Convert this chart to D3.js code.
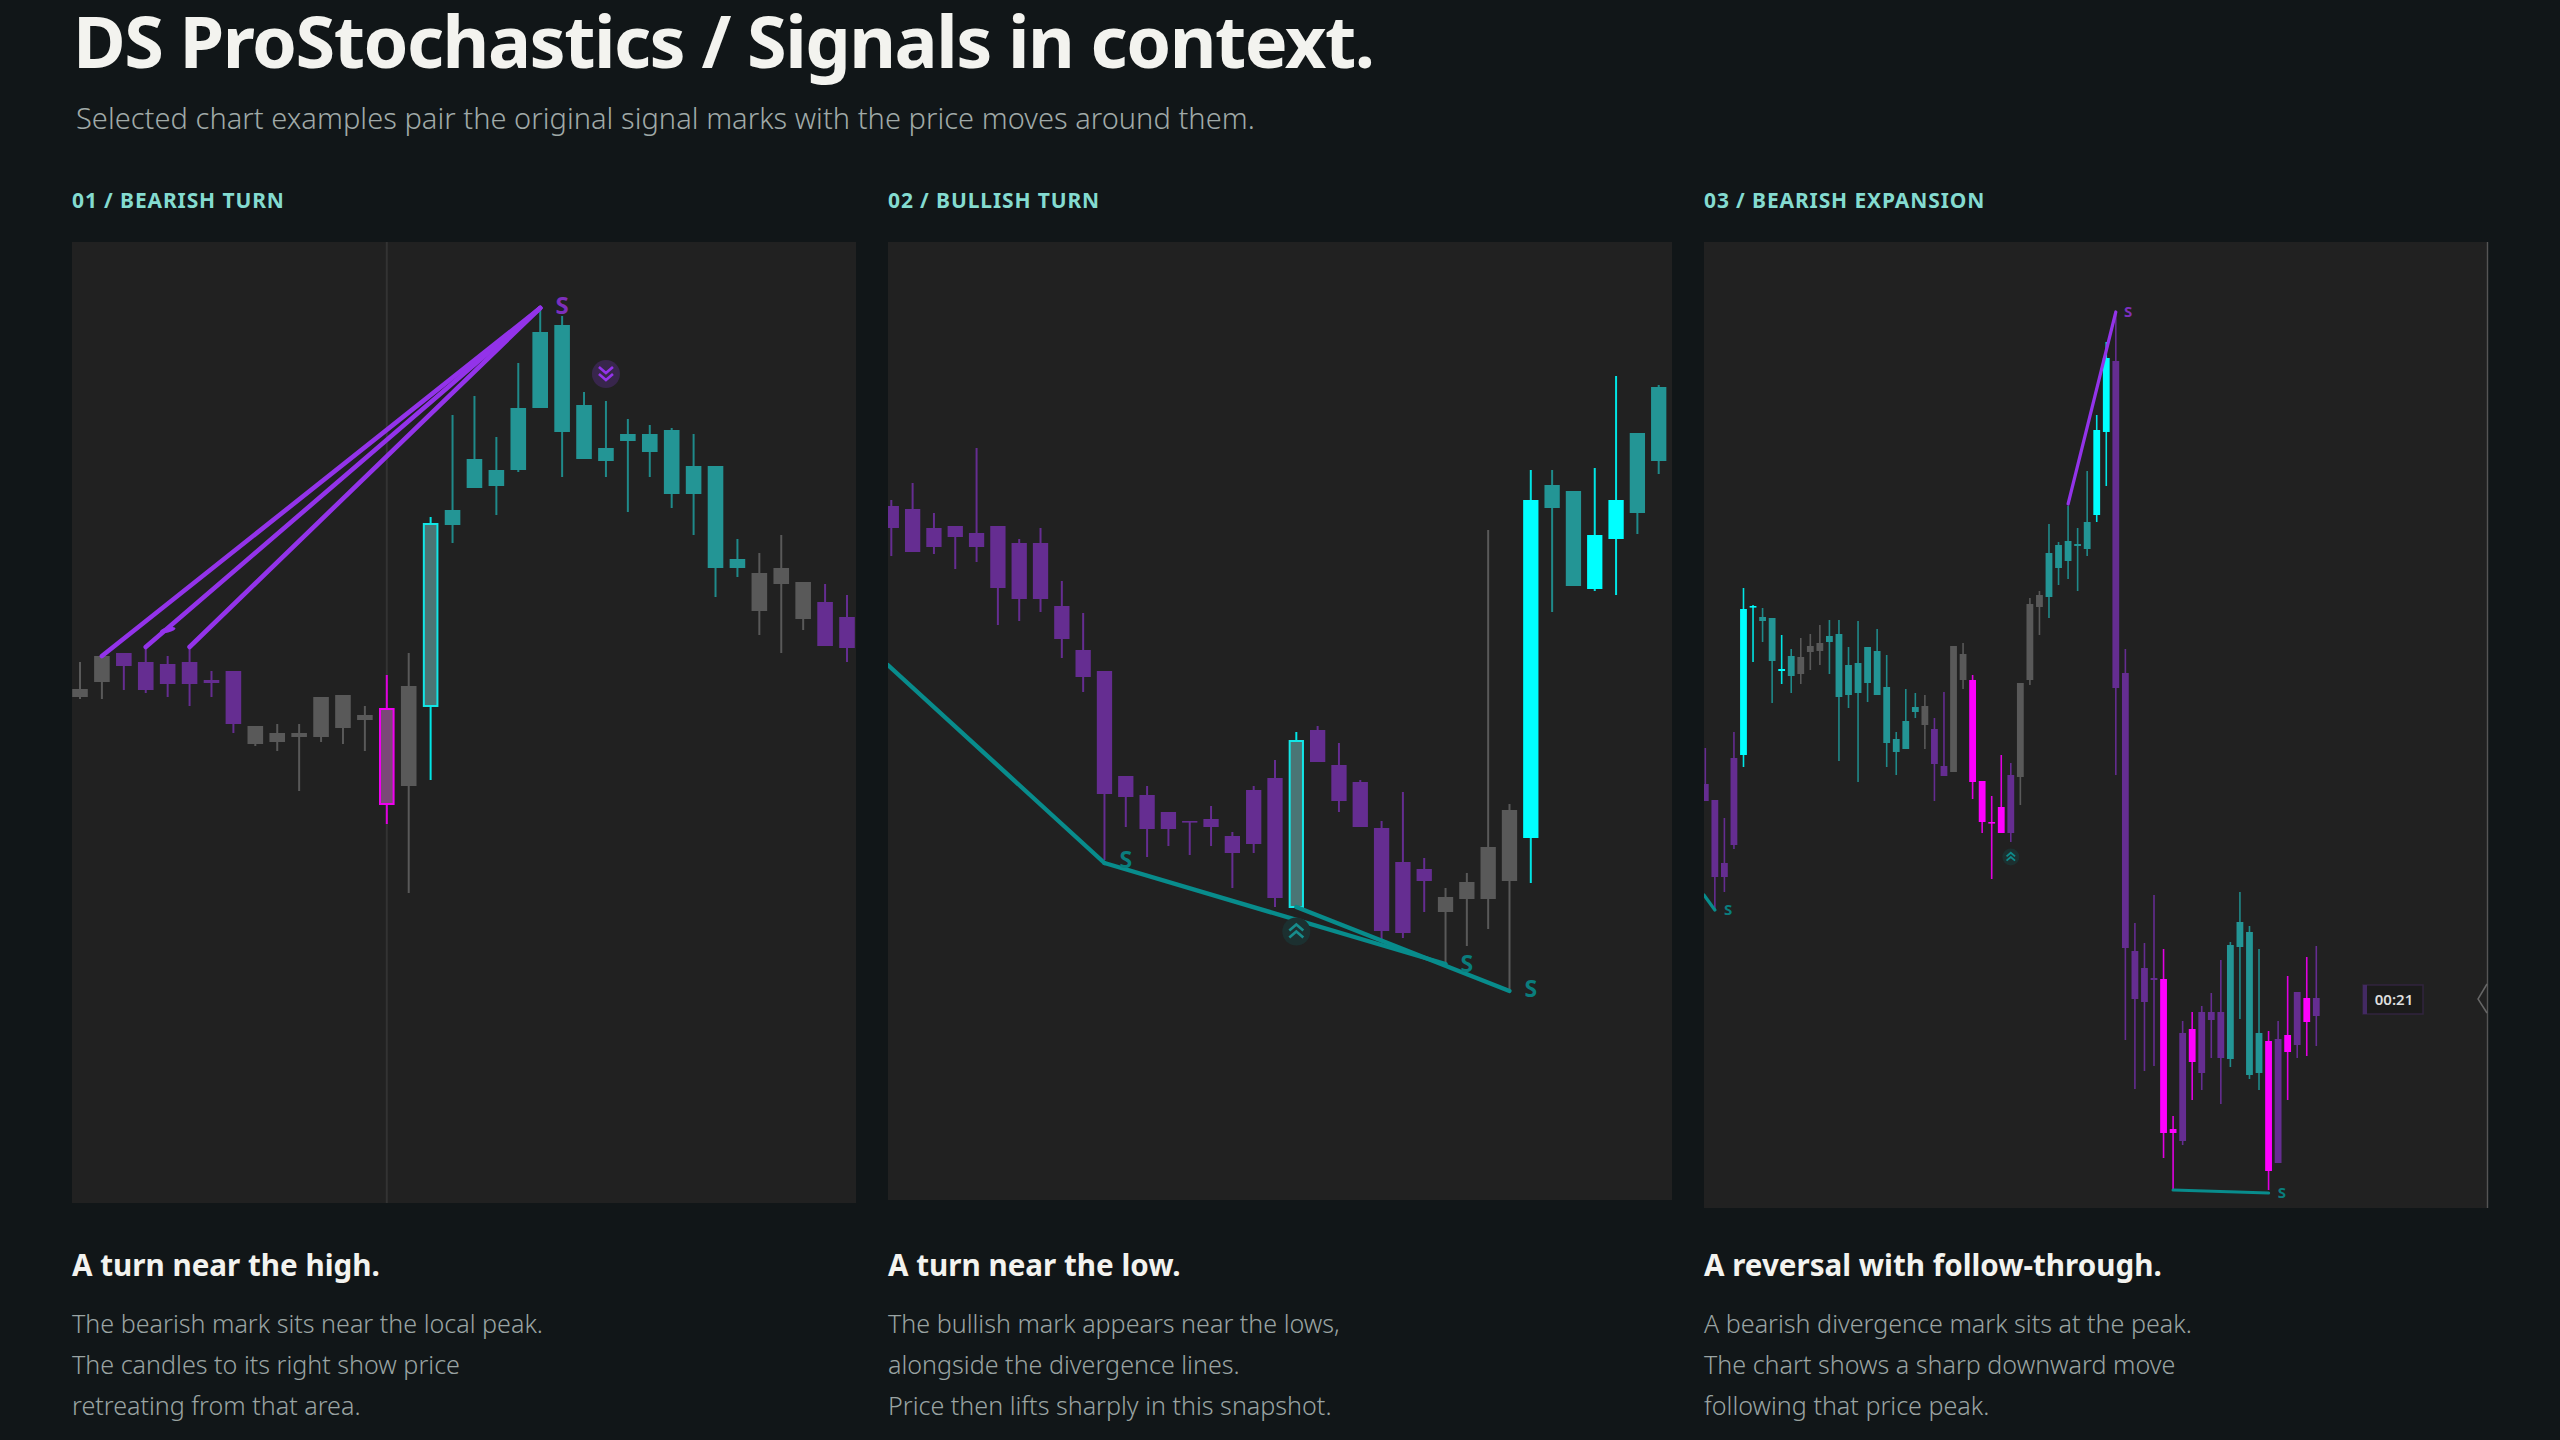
<!DOCTYPE html>
<html><head><meta charset="utf-8">
<script src="https://cdn.jsdelivr.net/npm/d3@7/dist/d3.min.js"></script>
<style>html,body{margin:0;padding:0;background:#111618}svg{display:block}text{font-family:"Noto Sans",sans-serif}</style>
</head><body><div id="chart"></div>
<script>
// ---------- text ----------
const pageTitle = "DS ProStochastics / Signals in context.";
const pageSubtitle = "Selected chart examples pair the original signal marks with the price moves around them.";
const panelLabels = ["01 / BEARISH TURN", "02 / BULLISH TURN", "03 / BEARISH EXPANSION"];
const panelHeadings = ["A turn near the high.", "A turn near the low.", "A reversal with follow-through."];
const panelNotes = [
  ["The bearish mark sits near the local peak.", "The candles to its right show price", "retreating from that area."],
  ["The bullish mark appears near the lows,", "alongside the divergence lines.", "Price then lifts sharply in this snapshot."],
  ["A bearish divergence mark sits at the peak.", "The chart shows a sharp downward move", "following that price peak."]
];
// ---------- panel 1 candles (index = position in list) ----------
const p1High = [542,548,551,557,548,557,533,533,478,480,480,507,509,498,529,551,687,789,808,767,841,894,888,812,803,785,779,776,770,738,665,651,669,622,620,609];
const p1Top  = [515,548,551,542,540,542,524,533,478,471,471,507,509,489,495,518,680,694,745,734,796,872,879,799,756,770,770,774,738,738,645,631,636,622,602,587];
const p1Bot  = [507,522,538,514,520,520,521,480,460,462,467,467,476,484,400,418,498,679,716,718,734,796,772,745,743,763,752,710,710,636,636,593,620,585,558,556];
const p1Low  = [505,505,514,511,507,498,507,471,458,453,413,462,460,453,380,311,424,661,716,689,732,796,727,745,727,692,727,696,669,607,627,569,551,574,558,542];
const p1Kind = ("gg"+"pppppp"+"gggggg"+"x"+"g"+"o"+"tttttttttttttt"+"ggg"+"pp").split("");
// ---------- panel 2 candles ----------
const p2High = [704,721,691,678,756,678,665,676,623,591,533,428,418,392,383,398,372,418,444,472,478,461,424,383,412,346,316,331,674,400,734,734,713,736,828,771,819];
const p2Top  = [698,695,676,678,671,678,661,661,598,554,533,428,409,392,383,385,368,414,426,463,474,439,422,376,342,335,307,322,357,394,704,719,713,669,704,771,817];
const p2Bot  = [676,652,657,667,657,616,605,605,565,527,410,407,375,375,382,377,351,360,306,297,442,403,377,273,271,323,292,305,305,323,366,696,618,615,665,691,743];
const p2Low  = [648,652,650,635,642,579,583,592,546,512,344,377,347,358,349,358,316,351,297,297,442,392,377,265,266,292,241,258,275,214,321,592,618,613,609,670,730];
const p2Kind = ("ppppppppppppppppppp"+"o"+"pppppp"+"gggg"+"c"+"tt"+"cc"+"tt").split("");
// ---------- panel 3 candles ----------
const p3High = [462,410,392,478,622,605,602,592,575,561,572,576,585,590,590,563,589,563,581,555,478,521,517,515,492,518,564,567,535,429,414,455,447,527,612,619,686,668,704,682,739,795,868,898,561,287,267,315,261,94,189,198,204,217,250,268,318,284,261,179,189,234,218,253,264];
const p3Top  = [426,410,347,452,601,604,593,592,541,554,553,564,567,574,576,545,547,563,559,523,471,489,503,504,481,444,564,556,530,429,388,403,435,527,606,615,657,665,669,666,688,780,852,849,537,259,242,232,231,81,177,181,198,198,198,265,288,278,177,169,171,175,218,212,212];
const p3Bot  = [409,333,333,365,455,603,589,549,539,534,536,558,559,568,513,515,517,527,515,467,458,461,498,485,446,434,438,530,428,388,387,377,377,433,530,603,613,642,649,664,661,695,778,522,262,211,208,230,77,77,69,148,137,190,152,151,263,135,137,39,47,158,165,188,194];
const p3Low  = [409,300,318,361,443,548,568,507,526,517,526,540,545,536,449,502,428,508,515,443,435,461,492,461,409,434,438,521,411,377,331,377,368,405,525,575,592,625,631,619,654,688,724,435,170,121,139,144,52,20,65,110,120,152,106,143,191,131,120,20,47,110,152,154,164];
const p3Kind = ("pppp"+"cc"+"tt"+"c"+"t"+"ggg"+"tttttttttt"+"g"+"pp"+"gg"+"mmmm"+"p"+"ggg"+"ttttt"+"cc"+"ppppp"+"mm"+"p"+"m"+"ppp"+"tttt"+"m"+"p"+"m"+"p"+"m"+"p").split("");
// ---------- signal lines: [index, price, index, price, direction] ----------
const p1Lines = [[1,548,21,896,"bear"],[3,557,21,896,"bear"],[5,557,21,896,"bear"]];
const p2Lines = [[-0.16,539,10,341,"bull"],[10,341,26,240,"bull"],[19,297,29,213,"bull"]];
const p3Lines = [[-0.14,315,1,300,"bull"],[38,706,43,898,"bear"],[49,20,59,17,"bull"]];
// ---------- signal marks: [index, price, direction] ----------
const p1Letters = [[22,900,"bear"]];
const p2Letters = [[11,345,"bull"],[27,241,"bull"],[30,216,"bull"]];
const p3Letters = [[2.4,301,"bull"],[44.3,899,"bear"],[60.4,18,"bull"]];
const p1Badge = [24,830], p2Badge = [19,272.5], p3Badge = [32,353];
const timerText = "00:21";

// ---------- styles ----------
const kindFill = d3.scaleOrdinal(["g","p","t","c","m","o","x"],["#595959","#652d91","#239595","#00ffff","#ff00ff","#4a7575","#7b4878"]);
const kindEdge = d3.scaleOrdinal(["o","x"],["#12e6e6","#f000f0"]).unknown(null);
const kindWick = d3.scaleOrdinal(["g","p","t","c","m","o","x"],["#595959","#652d91","#1f8a8a","#00e5e5","#e000e0","#00e5e5","#e000e0"]);
const lineCol = d3.scaleOrdinal(["bear","bull"],["#9333ea","#088c8c"]);
const letterCol = d3.scaleOrdinal(["bear","bull"],["#7d2fbd","#0a7d7d"]);

const panels = [
 {high:p1High,top:p1Top,bot:p1Bot,low:p1Low,kind:p1Kind,lines:p1Lines,letters:p1Letters,badge:p1Badge,left:72,right:856,top_:242,bottom:1203,xd:[0,35],xr:[80,847],yd:[1,962],bw:15.6,wick:2,lw:4.6,letterSize:24,badgeR:14,up:false,badgeFill:"#38264c",chev:"#9333ea"},
 {high:p2High,top:p2Top,bot:p2Bot,low:p2Low,kind:p2Kind,lines:p2Lines,letters:p2Letters,badge:p2Badge,left:888,right:1672,top_:242,bottom:1200,xd:[0,36],xr:[891.3,1658.7],yd:[4,962],bw:15.3,wick:2,lw:4.4,letterSize:23,badgeR:14,up:true,badgeFill:"#1c3030",chev:"#178c8c"},
 {high:p3High,top:p3Top,bot:p3Bot,low:p3Low,kind:p3Kind,lines:p3Lines,letters:p3Letters,badge:p3Badge,left:1704,right:2488,top_:242,bottom:1208,xd:[0,64],xr:[1705.3,2316.3],yd:[2,968],bw:6.8,wick:1.6,lw:3.2,letterSize:15,badgeR:8.5,up:true,badgeFill:"#1c3030",chev:"#0f8a8a"}
];

const svg = d3.select("#chart").append("svg").attr("width",2560).attr("height",1440).attr("viewBox","0 0 2560 1440");
svg.append("rect").attr("width",2560).attr("height",1440).attr("fill","#111618");
svg.append("text").attr("x",73).attr("y",68).attr("fill","#f3f3ef").attr("font-size",72).attr("font-weight",700).attr("letter-spacing",-1.5).text(pageTitle);
svg.append("text").attr("x",76).attr("y",129).attr("fill","#a0aaa8").attr("font-size",29).attr("font-weight",300).attr("letter-spacing",0.04).text(pageSubtitle);

panels.forEach((P,pi)=>{
  const g = svg.append("g");
  const x = d3.scaleLinear().domain(P.xd).range(P.xr);
  const y = d3.scaleLinear().domain(P.yd).range([P.bottom,P.top_]);
  const w = P.right-P.left;
  g.append("text").attr("x",P.left).attr("y",208).attr("fill","#84dbd0").attr("font-size",21).attr("font-weight",700).attr("letter-spacing",0.88).text(panelLabels[pi]);
  g.append("rect").attr("x",P.left).attr("y",P.top_).attr("width",w).attr("height",P.bottom-P.top_).attr("fill","#212121");
  const clip = "clip"+pi;
  svg.append("clipPath").attr("id",clip).append("rect").attr("x",P.left).attr("y",P.top_).attr("width",w).attr("height",P.bottom-P.top_);
  const c = g.append("g").attr("clip-path",`url(#${clip})`);
  if(pi===0) c.append("line").attr("x1",x(14)).attr("x2",x(14)).attr("y1",P.top_).attr("y2",P.bottom).attr("stroke","#333333").attr("stroke-width",2);
  const idx = d3.range(P.high.length);
  c.selectAll(".wick").data(idx).join("line").attr("class","wick")
    .attr("x1",i=>x(i)).attr("x2",i=>x(i)).attr("y1",i=>y(P.high[i])).attr("y2",i=>y(P.low[i]))
    .attr("stroke",i=>kindWick(P.kind[i])).attr("stroke-width",P.wick);
  c.selectAll(".body").data(idx).join("rect").attr("class","body")
    .attr("x",i=>x(i)-P.bw/2 + (kindEdge(P.kind[i])?1:0))
    .attr("width",i=>P.bw - (kindEdge(P.kind[i])?2:0))
    .attr("y",i=>y(P.top[i]))
    .attr("height",i=>Math.max(1.6,y(P.bot[i])-y(P.top[i])))
    .attr("fill",i=>kindFill(P.kind[i]))
    .attr("stroke",i=>kindEdge(P.kind[i])).attr("stroke-width",2);
  c.selectAll(".sig").data(P.lines).join("line").attr("class","sig")
    .attr("x1",d=>x(d[0])).attr("y1",d=>y(d[1])).attr("x2",d=>x(d[2])).attr("y2",d=>y(d[3]))
    .attr("stroke",d=>lineCol(d[4])).attr("stroke-width",P.lw).attr("stroke-linecap","round");
  c.selectAll(".letter").data(P.letters).join("text").attr("class","letter")
    .attr("x",d=>x(d[0])).attr("y",d=>y(d[1])).attr("text-anchor","middle").attr("dominant-baseline","central")
    .attr("font-family","Roboto, sans-serif").attr("font-weight",700).attr("font-size",P.letterSize).attr("fill",d=>letterCol(d[2])).text("S");
  // round badge with double chevron
  const b = c.append("g").attr("transform",`translate(${x(P.badge[0])},${y(P.badge[1])})`);
  b.append("circle").attr("r",P.badgeR).attr("fill",P.badgeFill);
  const s = P.badgeR/14, dir = P.up?-1:1;
  [-4,3].forEach(o=>{
    const oo = o*s;
    b.append("path").attr("d",d3.line()([[-7*s,(oo-3*s*dir)],[0,(oo+3*s*dir)],[7*s,(oo-3*s*dir)]]))
      .attr("fill","none").attr("stroke",P.chev).attr("stroke-width",2.6*Math.max(s,0.7));
  });
  if(pi===0){
    c.append("ellipse").attr("cx",x(4)).attr("cy",y(574)).attr("rx",8).attr("ry",2.6).attr("transform",`rotate(-12 ${x(4)} ${y(574)})`).attr("fill","#9333ea");
  }
  if(pi===2){
    // right edge, collapse handle and countdown tag
    g.append("line").attr("x1",P.right-0.5).attr("x2",P.right-0.5).attr("y1",P.top_).attr("y2",P.bottom).attr("stroke","#555555").attr("stroke-width",1.4);
    g.append("path").attr("d",d3.line()([[2487,984],[2478,999],[2487,1013]])).attr("fill","none").attr("stroke","#666666").attr("stroke-width",1.5);
    g.append("rect").attr("x",2363).attr("y",985).attr("width",60).attr("height",29).attr("fill","#1b1b1b").attr("stroke","#32253f").attr("stroke-width",1.5);
    g.append("rect").attr("x",2363).attr("y",985).attr("width",4).attr("height",29).attr("fill","#432a63");
    g.append("text").attr("x",2394).attr("y",1005).attr("text-anchor","middle").attr("font-size",15).attr("font-weight",600).attr("fill","#dedede").text(timerText);
  }
  g.append("text").attr("x",P.left).attr("y",1276).attr("fill","#f3f3ef").attr("font-size",29.6).attr("font-weight",700).text(panelHeadings[pi]);
  g.selectAll(".note").data(panelNotes[pi]).join("text").attr("class","note")
    .attr("x",P.left).attr("y",(d,i)=>1333+i*41).attr("fill","#9aa4a3").attr("font-size",25.1).attr("font-weight",300).text(d=>d);
});
</script></body></html>
